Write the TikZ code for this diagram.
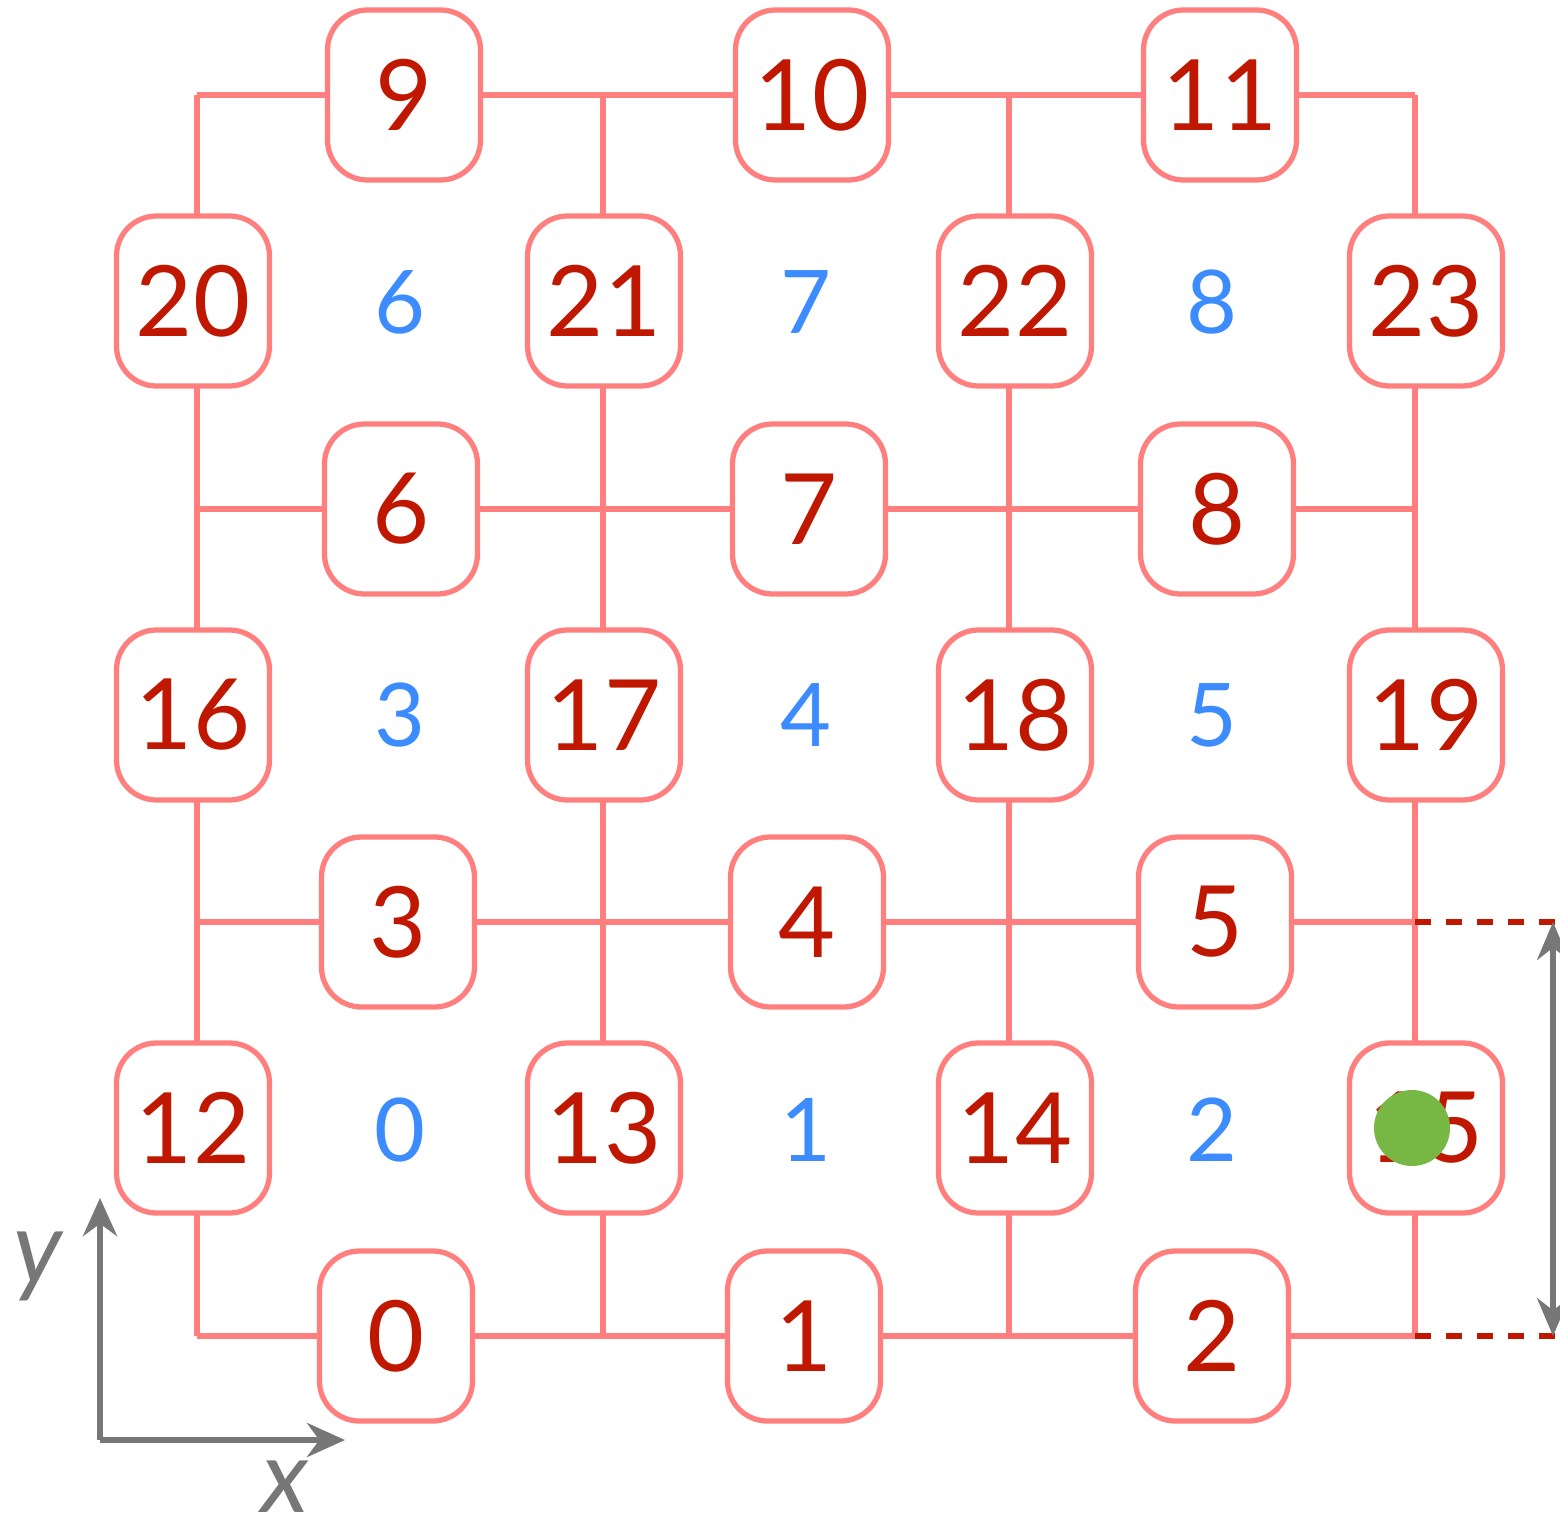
\documentclass[tikz,border=0pt]{standalone}
\usepackage{fontspec}
\setmainfont{Lato}
\usetikzlibrary{arrows.meta}

\definecolor{gridpink}{RGB}{255,127,127}
\definecolor{edgered}{RGB}{192,24,0}
\definecolor{cellblue}{RGB}{60,140,255}
\definecolor{dotgreen}{RGB}{118,184,67}
\definecolor{axisgray}{RGB}{119,119,119}

\begin{document}
\begin{tikzpicture}[line cap=butt,line join=miter,
  edgebox/.style={draw=gridpink,line width=1.5pt,fill=white,rounded corners=0.4cm,
    minimum width=1.53cm,minimum height=1.70cm,inner sep=0pt,
    text=edgered,font=\fontsize{28}{28}\selectfont},
  celllabel/.style={inner sep=0pt,text=cellblue,font=\fontsize{25}{25}\selectfont},
  gridline/.style={draw=gridpink,line width=1.6pt},
  axisline/.style={draw=axisgray,line width=1.8pt,-{Stealth[length=0.38cm,width=0.34cm]}},
  axislabel/.style={inner sep=0pt,text=axisgray,font=\fontsize{29}{29}\selectfont\itshape}]
  \useasboundingbox (0,0) rectangle (15.6,15.32);
  % grid corners
  \coordinate (g00) at (1.97,1.96);
  \coordinate (g30) at (14.15,1.96);
  \coordinate (g01) at (1.97,6.10);
  \coordinate (g31) at (14.15,6.10);
  \coordinate (g02) at (1.97,10.23);
  \coordinate (g32) at (14.15,10.23);
  \coordinate (g03) at (1.97,14.37);
  \coordinate (g33) at (14.15,14.37);
  \coordinate (g10) at (6.03,1.96);
  \coordinate (g13) at (6.03,14.37);
  \coordinate (g20) at (10.09,1.96);
  \coordinate (g23) at (10.09,14.37);
  \draw[gridline] (g00) -- (g30);
  \draw[gridline] (g01) -- (g31);
  \draw[gridline] (g02) -- (g32);
  \draw[gridline] (g03) -- (g33);
  \draw[gridline] (g00) -- (g03);
  \draw[gridline] (g10) -- (g13);
  \draw[gridline] (g20) -- (g23);
  \draw[gridline] (g30) -- (g33);
  % horizontal edges
  \node[edgebox] (h0) at (3.96,1.96) {0};
  \node[edgebox] (h1) at (8.04,1.96) {1};
  \node[edgebox] (h2) at (12.12,1.96) {2};
  \node[edgebox] (h3) at (3.98,6.10) {3};
  \node[edgebox] (h4) at (8.07,6.10) {4};
  \node[edgebox] (h5) at (12.15,6.10) {5};
  \node[edgebox] (h6) at (4.01,10.23) {6};
  \node[edgebox] (h7) at (8.09,10.23) {7};
  \node[edgebox] (h8) at (12.17,10.23) {8};
  \node[edgebox] (h9) at (4.04,14.37) {9};
  \node[edgebox] (h10) at (8.12,14.37) {10};
  \node[edgebox] (h11) at (12.20,14.37) {11};
  % vertical edges
  \node[edgebox] (v12) at (1.93,4.04) {12};
  \node[edgebox] (v13) at (6.04,4.04) {13};
  \node[edgebox] (v14) at (10.15,4.04) {14};
  \node[edgebox] (v15) at (14.26,4.04) {15};
  \node[edgebox] (v16) at (1.93,8.17) {16};
  \node[edgebox] (v17) at (6.04,8.17) {17};
  \node[edgebox] (v18) at (10.15,8.17) {18};
  \node[edgebox] (v19) at (14.26,8.17) {19};
  \node[edgebox] (v20) at (1.93,12.31) {20};
  \node[edgebox] (v21) at (6.04,12.31) {21};
  \node[edgebox] (v22) at (10.15,12.31) {22};
  \node[edgebox] (v23) at (14.26,12.31) {23};
  % cells
  \node[celllabel] (c0) at (4.00,4.02) {0};
  \node[celllabel] (c1) at (8.06,4.02) {1};
  \node[celllabel] (c2) at (12.12,4.02) {2};
  \node[celllabel] (c3) at (4.00,8.17) {3};
  \node[celllabel] (c4) at (8.06,8.17) {4};
  \node[celllabel] (c5) at (12.12,8.17) {5};
  \node[celllabel] (c6) at (4.00,12.30) {6};
  \node[celllabel] (c7) at (8.06,12.30) {7};
  \node[celllabel] (c8) at (12.12,12.30) {8};
  % particle and spacing
  \fill[dotgreen] (14.12,4.04) circle (0.38);
  \coordinate (d1) at (15.6,6.10);
  \coordinate (d0) at (15.6,1.96);
  \draw[edgered,line width=1.7pt,dash pattern=on 0.16cm off 0.15cm] (g31) -- (d1);
  \draw[edgered,line width=1.7pt,dash pattern=on 0.16cm off 0.15cm] (g30) -- (d0);
  \coordinate (s1) at (15.53,6.10);
  \coordinate (s0) at (15.53,1.96);
  \draw[draw=axisgray,line width=1.5pt,{Stealth[length=0.38cm,width=0.32cm]}-{Stealth[length=0.38cm,width=0.32cm]}] (s1) -- (s0);
  % axes
  \coordinate (o) at (1.00,0.92);
  \coordinate (xe) at (3.45,0.92);
  \coordinate (ye) at (1.00,3.34);
  \draw[axisline] (o) -- (xe);
  \draw[axisline] (o) -- (ye);
  \node[axislabel] (xl) at (2.85,0.45) {x};
  \node[axislabel] (yl) at (0.38,2.66) {y};
\end{tikzpicture}
\end{document}
